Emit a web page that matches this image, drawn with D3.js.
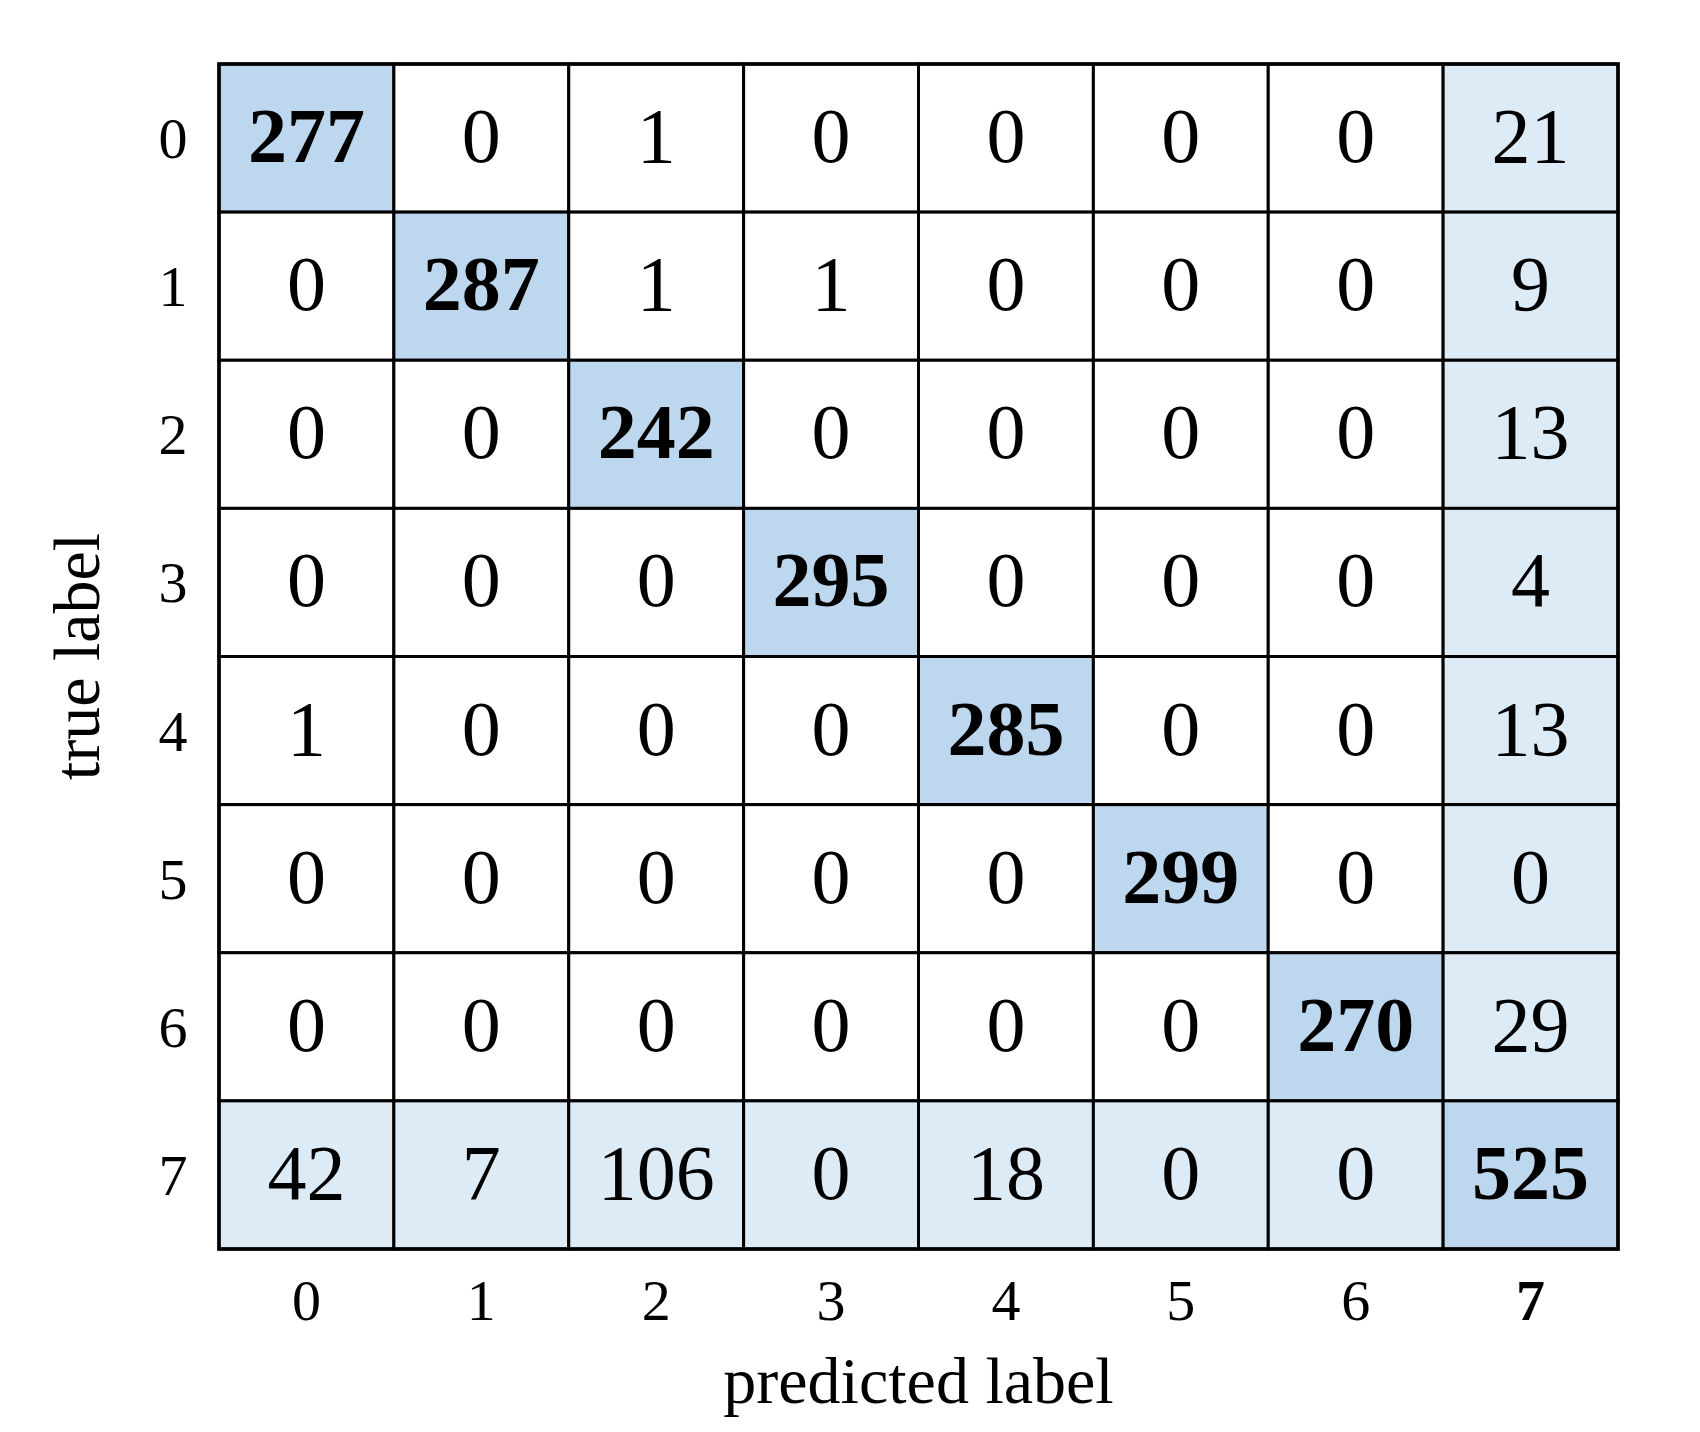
<!DOCTYPE html>
<html>
<head>
<meta charset="utf-8">
<script src="https://cdn.jsdelivr.net/npm/d3@7"></script>
<style>
  html, body { margin: 0; padding: 0; background: #fff; }
  svg text { font-family: "Liberation Serif", "DejaVu Serif", serif; fill: #000; }
</style>
</head>
<body>
<svg id="chart" width="1700" height="1432"></svg>
<script>
// ===============================
// データ
// ===============================
const labels = ['0', '1', '2', '3', '4', '5', '6', '7'];
const matrix = [
  [277, 0, 1, 0, 0, 0, 0, 21],
  [0, 287, 1, 1, 0, 0, 0, 9],
  [0, 0, 242, 0, 0, 0, 0, 13],
  [0, 0, 0, 295, 0, 0, 0, 4],
  [1, 0, 0, 0, 285, 0, 0, 13],
  [0, 0, 0, 0, 0, 299, 0, 0],
  [0, 0, 0, 0, 0, 0, 270, 29],
  [42, 7, 106, 0, 18, 0, 0, 525],
];
const xTitle = 'predicted label';
const yTitle = 'true label';

// ===============================
// 設定値
// ===============================
const W = 1700, H = 1432;
const M = { top: 64, right: 82, bottom: 183, left: 219 };
const iw = W - M.left - M.right;
const ih = H - M.top - M.bottom;

const svg = d3.select('#chart');
const g = svg.append('g').attr('transform', `translate(${M.left},${M.top})`);

const x = d3.scaleBand().domain(labels).range([0, iw]);
const y = d3.scaleBand().domain(labels).range([0, ih]);

// セル種別 -> 色（対角 / 最終行・列 / その他）
const last = labels[labels.length - 1];
const kind = (r, c) => (r === c ? 'diag' : (r === last || c === last) ? 'edge' : 'none');
const fill = d3.scaleOrdinal()
  .domain(['diag', 'edge', 'none'])
  .range(['#bdd7ee', '#ddebf7', '#ffffff']);

const cells = matrix.flatMap((row, i) =>
  row.map((v, j) => ({ r: labels[i], c: labels[j], v }))
);

// セル
g.selectAll('rect.cell')
  .data(cells)
  .join('rect')
  .attr('class', 'cell')
  .attr('x', (d) => x(d.c))
  .attr('y', (d) => y(d.r))
  .attr('width', x.bandwidth())
  .attr('height', y.bandwidth())
  .attr('fill', (d) => fill(kind(d.r, d.c)))
  .attr('stroke', '#000')
  .attr('stroke-width', 3);

// 数値
g.selectAll('text.val')
  .data(cells)
  .join('text')
  .attr('class', 'val')
  .attr('x', (d) => x(d.c) + x.bandwidth() / 2)
  .attr('y', (d) => y(d.r) + y.bandwidth() / 2 + 24)
  .attr('text-anchor', 'middle')
  .style('font-size', '78px')
  .style('font-weight', (d) => (d.r === d.c ? 'bold' : 'normal'))
  .text((d) => d.v);

// 外枠
g.append('rect')
  .attr('width', iw)
  .attr('height', ih)
  .attr('fill', 'none')
  .attr('stroke', '#000')
  .attr('stroke-width', 3.5);

// X軸ラベル
g.selectAll('text.xtick')
  .data(labels)
  .join('text')
  .attr('class', 'xtick')
  .attr('x', (d) => x(d) + x.bandwidth() / 2)
  .attr('y', ih + 71)
  .attr('text-anchor', 'middle')
  .style('font-size', '58px')
  .style('font-weight', (d) => (d === last ? 'bold' : 'normal'))
  .text((d) => d);

// Y軸ラベル
g.selectAll('text.ytick')
  .data(labels)
  .join('text')
  .attr('class', 'ytick')
  .attr('x', -46)
  .attr('y', (d) => y(d) + y.bandwidth() / 2 + 20)
  .attr('text-anchor', 'middle')
  .style('font-size', '58px')
  .text((d) => d);

// 軸タイトル
g.append('text')
  .attr('x', iw / 2)
  .attr('y', ih + 154)
  .attr('text-anchor', 'middle')
  .style('font-size', '66px')
  .text(xTitle);

g.append('text')
  .attr('transform', `translate(${-120},${ih / 2}) rotate(-90)`)
  .attr('text-anchor', 'middle')
  .style('font-size', '66px')
  .text(yTitle);
</script>
</body>
</html>
